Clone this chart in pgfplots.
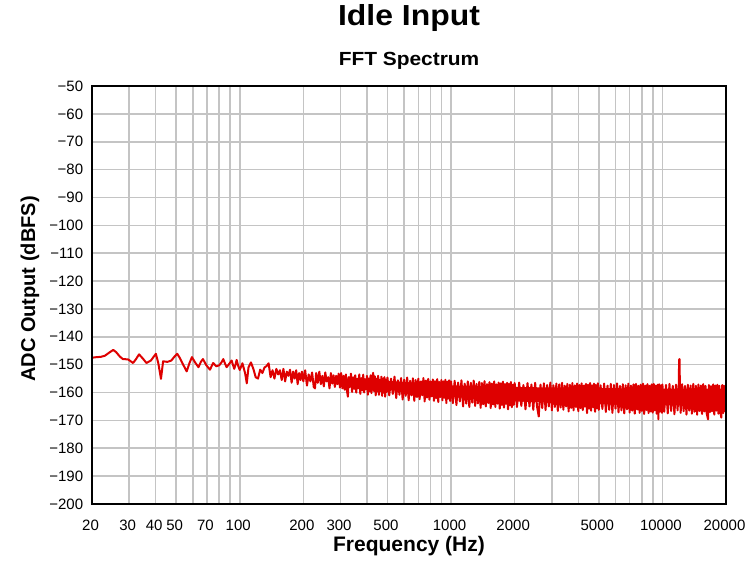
\documentclass[border=0pt]{standalone}
\usepackage{fontspec}
\setmainfont{Liberation Sans}
\usepackage{pgfplots}
\pgfplotsset{compat=1.18}
\definecolor{specred}{RGB}{222,0,0}
\definecolor{gridgray}{RGB}{196,196,196}
\begin{document}
\begin{tikzpicture}
\path[use as bounding box] (-92bp,-59bp) rectangle (661bp,504bp);
\begin{axis}[
  name=ax,
  at={(0,0)}, anchor=south west,
  scale only axis, width=634bp, height=418bp,
  xmode=log, xmin=20, xmax=20000, ymin=-200, ymax=-50,
  xtick={20,30,40,50,60,70,80,90,100,200,300,400,500,600,700,800,900,1000,2000,3000,4000,5000,6000,7000,8000,9000,10000,20000},
  xticklabels={20,30,40,50,,70,,,100,200,300,,500,,,,,1000,2000,,,5000,,,,,10000,20000},
  ytick={-200,-190,-180,-170,-160,-150,-140,-130,-120,-110,-100,-90,-80,-70,-60,-50},
  yticklabels={−200,−190,−180,−170,−160,−150,−140,−130,−120,−110,−100,−90,−80,−70,−60,−50},
  major tick length=0pt, minor tick length=0pt,
  xmajorgrids, ymajorgrids,
  major grid style={draw=gridgray, line width=1.6bp},
  axis line style={line width=2.5bp},
  ticklabel style={font=\fontsize{15bp}{18bp}\selectfont, inner sep=0pt},
  xticklabel style={anchor=base, yshift=-26bp, xshift=-1.5bp},
  yticklabel style={anchor=east, xshift=-8.7bp},
  title={Idle Input},
  title style={at={(axis description cs:0.5,1)}, anchor=base, yshift=54.3bp, inner sep=0pt, font=\fontsize{29bp}{34bp}\selectfont\bfseries\addfontfeatures{FakeStretch=1.1}},
  xlabel={Frequency (Hz)},
  xlabel style={at={(axis description cs:0.5,0)}, anchor=base, yshift=-47.7bp, inner sep=0pt, font=\fontsize{21bp}{25bp}\selectfont\bfseries},
  ylabel={ADC Output (dBFS)},
  ylabel style={at={(axis description cs:0,0.5)}, anchor=base, yshift=57bp, xshift=6bp, inner sep=0pt, font=\fontsize{20bp}{24bp}\selectfont\bfseries},
]
% solid core of the noise band
\addplot[fill=specred, draw=none] coordinates {
(300,-154.8) (500,-155.8) (1000,-157.4) (2000,-158) (5000,-158.4) (10000,-158.6) (20000,-158.6)
(20000,-164.8) (10000,-164.6) (5000,-164.2) (2000,-163.2) (1000,-161.6) (500,-159) (300,-157.2)
} -- cycle;
\addplot[specred, line width=2bp, line join=round] coordinates {
(20,-147.5) (21,-147.3) (22,-147.2) (23,-146.8) (24,-145.8) (25.2,-144.7) (26,-145.5) (27.1,-147.1) (28,-148.0) (29.6,-148.1)
(31.3,-149.4) (32.3,-148.0) (33.4,-146.3) (34.8,-147.8) (36.2,-149.4) (38,-148.5) (40.1,-146.1) (41.2,-149.5) (42.4,-155.1) (43.4,-148.8)
(45.5,-149.0) (47.5,-148.5) (49,-147.2) (50.6,-146.1) (52,-147.5) (54,-150) (56.1,-152.4) (57.8,-149.5) (59.4,-147.3) (61.5,-149.2)
(63.8,-150.9) (65.5,-149.0) (67,-148.0) (69.5,-150.2) (72.3,-151.8) (74.9,-149.4) (77.5,-150.6) (80,-150.2) (81.8,-149.3) (83.6,-148.0)
(85.2,-149.6) (86.7,-150.9) (89,-149.8) (91.6,-148.5) (93,-150.2) (94.2,-151.5) (95.5,-150) (96.7,-148.3) (98.3,-150.4) (100,-151.9)
(103,-149.5) (106,-153) (108,-156.7) (110,-151) (113,-149.2) (116,-151.5) (119,-154.5) (122,-155) (125,-151.8) (128,-153)
(131,-151) (134,-150.5) (137,-149.5) (140,-154.5) (143,-152) (146,-155) (149,-151.5) (152,-153.5) (155,-152) (158,-155.5)
(161,-151.5) (164,-156) (167,-152.5) (170,-154) (173,-151.8) (176,-156.5) (179,-152.5) (182,-155) (185,-152) (188,-157)
(191,-153) (194,-155.5) (197,-152.5) (200,-156) (204,-152) (208,-157.5) (212,-153.5) (216,-156) (220,-152.8) (224,-158)
(227,-158.5) (230,-153) (234,-156.5) (238,-152.5) (242,-157) (246,-154) (250,-157.8) (254,-152.8) (258,-156) (262,-154.5)
(266,-158.5) (270,-153) (274,-156.8) (278,-153.8) (282,-158) (286,-154) (290,-157) (294,-153.2) (298,-158.2) (302,-153)
(306,-158.5) (310,-154) (314,-159) (318,-153.5) (322,-159.5) (325,-161.5) (328,-154.5) (332,-158) (336,-153.2) (340,-159.8)
(344,-154.5) (348,-158.7) (352,-153.8) (356,-160) (360,-155) (364,-158.5) (368,-153.5) (372,-160.5) (376,-154.8) (380,-159.2)
(384,-153.6) (388,-160) (392,-155.2) (396,-158.8) (400,-154) (404,-160.8) (408,-155) (412,-159.5) (416,-153.8) (420,-160.2)
(424,-154.6) (428,-152.9) (432,-159.5) (436,-154.2) (440,-161) (444,-155) (448,-159.6) (452,-154) (456,-160.8) (460,-155.5)
(464,-159.4) (468,-154.3) (472,-161.2) (476,-155) (480,-160) (484,-154.5) (488,-161.5) (492,-155.4) (496,-159.8) (500,-154.6)
(510,-161) (520,-155) (530,-160.5) (540,-154.3) (550,-162) (560,-155.6) (570,-160.8) (580,-154.8) (590,-162.5) (600,-155.4)
(610,-161.2) (620,-154.6) (630,-162.8) (640,-155.8) (650,-161) (660,-154.9) (670,-163) (680,-155.5) (690,-161.6) (700,-155)
(710,-162.4) (720,-156) (730,-161) (740,-154.8) (750,-163.2) (760,-155.7) (770,-161.8) (780,-155.1) (790,-162.6) (800,-156)
(810,-161.4) (820,-155.3) (830,-163) (840,-155.9) (850,-162) (860,-155.2) (870,-163.4) (880,-156.2) (890,-161.6) (900,-155.5)
(910,-162.8) (920,-156) (930,-161.9) (940,-155.4) (950,-163.8) (960,-156.1) (970,-162.2) (980,-155.6) (990,-163) (1000,-156)
(1020,-163.8) (1040,-155.8) (1060,-164.5) (1080,-156.4) (1100,-163.2) (1120,-155.6) (1140,-165) (1160,-156.8) (1180,-164) (1200,-156)
(1220,-165.2) (1240,-156.5) (1260,-163.6) (1280,-155.7) (1300,-164.8) (1320,-156.9) (1340,-163.9) (1360,-156.2) (1380,-165.5) (1400,-156.6)
(1420,-164.2) (1440,-155.9) (1460,-165) (1480,-157) (1500,-163.8) (1520,-156.3) (1540,-165.6) (1560,-156.8) (1580,-164.3) (1600,-156)
(1620,-165.2) (1640,-157.1) (1660,-164) (1680,-156.4) (1700,-165.8) (1720,-156.7) (1740,-164.5) (1760,-156.1) (1780,-165.4) (1800,-157)
(1820,-164.1) (1840,-156.5) (1860,-166) (1880,-156.9) (1900,-164.6) (1920,-156.2) (1940,-165.3) (1960,-157.2) (1980,-164.4) (2000,-156.6)
(2050,-165.2) (2100,-156.4) (2150,-164.8) (2200,-157.3) (2250,-166) (2300,-156.6) (2350,-165) (2400,-157.1) (2450,-166.2) (2500,-156.5)
(2550,-164.9) (2600,-168.6) (2650,-157.2) (2700,-165.6) (2750,-156.7) (2800,-166.3) (2850,-157.3) (2900,-165) (2950,-156.4) (3000,-166.4)
(3050,-157.4) (3100,-165.2) (3150,-156.8) (3200,-166.6) (3250,-157.1) (3300,-165.4) (3350,-156.5) (3400,-166.2) (3450,-157.5) (3500,-165)
(3550,-156.9) (3600,-166.8) (3650,-157.2) (3700,-165.5) (3750,-156.6) (3800,-166.4) (3850,-157.4) (3900,-165.2) (3950,-156.8) (4000,-166.7)
(4050,-157.3) (4100,-165.6) (4150,-156.7) (4200,-166.3) (4250,-157.5) (4300,-165.1) (4350,-156.9) (4400,-167.4) (4450,-157.2) (4500,-165.8)
(4550,-156.6) (4600,-166.5) (4650,-157.4) (4700,-165.3) (4750,-156.8) (4800,-166.9) (4850,-157.3) (4900,-165.7) (4950,-156.7) (5000,-166.2)
(5100,-157.4) (5200,-165.9) (5300,-156.8) (5400,-167) (5500,-157.5) (5600,-166.2) (5700,-156.9) (5800,-167.3) (5900,-157.3) (6000,-165.8)
(6100,-156.7) (6200,-167.1) (6300,-157.6) (6400,-166.4) (6500,-157) (6600,-167.5) (6700,-157.4) (6800,-166) (6900,-156.8) (7000,-167.2)
(7100,-157.5) (7200,-166.5) (7300,-157.1) (7400,-167.6) (7500,-156.9) (7600,-166.1) (7700,-157.6) (7800,-167.3) (7900,-157.2) (8000,-166.6)
(8100,-156.8) (8200,-167.7) (8300,-157.5) (8400,-166.3) (8500,-157) (8600,-167.4) (8700,-157.6) (8800,-166.8) (8900,-157.1) (9000,-167.2)
(9100,-156.9) (9200,-166.4) (9300,-157.5) (9400,-167.6) (9500,-157.2) (9570,-169.6) (9650,-157) (9750,-166.8) (9850,-157.4) (9950,-167.3)
(10000,-157.1) (10200,-166.9) (10400,-157.3) (10600,-167.5) (10800,-156.9) (11000,-166.6) (11200,-157.6) (11400,-167.8) (11600,-157.2) (11800,-166.4)
(11950,-157.5) (12000,-148.2) (12050,-148) (12100,-157.4) (12200,-167.3) (12400,-157) (12600,-166.7) (12800,-157.6) (13000,-167.9) (13200,-157.2)
(13400,-166.5) (13600,-157.5) (13800,-167.6) (14000,-156.9) (14200,-166.9) (14400,-157.6) (14600,-168) (14800,-157.1) (15000,-166.6) (15200,-157.5)
(15400,-167.7) (15600,-157) (15800,-166.8) (16000,-157.6) (16200,-167.4) (16440,-169.6) (16600,-157.3) (16800,-167) (17000,-157.7) (17200,-166.7)
(17400,-157.1) (17600,-167.9) (17800,-157.5) (18000,-166.5) (18200,-157.2) (18400,-167.6) (18600,-157.6) (18800,-166.9) (19000,-169) (19200,-157.3)
(19400,-167.4) (19600,-157.6) (19800,-166.8) (20000,-157.4)
};
\end{axis}
\draw[line width=2.5bp] (ax.south west) rectangle (ax.north east);
\node[anchor=base, inner sep=0pt, font=\fontsize{19bp}{23bp}\selectfont\bfseries\addfontfeatures{FakeStretch=1.1}] at ([yshift=20bp]ax.north) {FFT Spectrum};
\end{tikzpicture}
\end{document}
